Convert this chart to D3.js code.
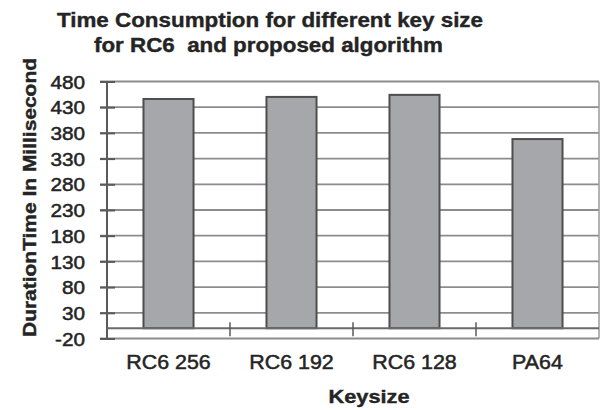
<!DOCTYPE html>
<html>
<head>
<meta charset="utf-8">
<script src="https://cdn.jsdelivr.net/npm/d3@7"></script>
<style>
  html, body { margin: 0; padding: 0; background: #fff; }
  svg { display: block; font-family: "Liberation Sans", Arial, sans-serif; }
</style>
</head>
<body>
<svg id="chart" width="601" height="410"></svg>
<script>
// Key sizes and measured durations (ms)
const categories = ["RC6 256", "RC6 192", "RC6 128", "PA64"];
const durations = [446, 450, 454, 368];
const yTicks = [-20, 30, 80, 130, 180, 230, 280, 330, 380, 430, 480];

const titleLines = ["Time Consumption for different key size", "for RC6  and proposed algorithm"];
const yTitle = "DurationTime In Millisecond";
const xTitle = "Keysize";

const svg = d3.select("#chart");
const plot = { left: 107, right: 599, top: 81.5, bottom: 338.5 };

const y = d3.scaleLinear().domain([-20, 480]).range([plot.bottom, plot.top]);
const x = d3.scaleBand().domain(categories)
  .range([plot.left, plot.right])
  .paddingInner(0.593).paddingOuter(0.2965);

const ink = "#242424";

// widen a text element horizontally by a factor
function stretch(sel, k) {
  sel.each(function () {
    const w = this.getComputedTextLength();
    d3.select(this).attr("textLength", w * k).attr("lengthAdjust", "spacingAndGlyphs");
  });
}

// horizontal gridlines, starting from the left tick stubs
svg.append("g").selectAll("line").data(yTicks).join("line")
  .attr("x1", plot.left - 7).attr("x2", plot.right)
  .attr("y1", d => y(d)).attr("y2", d => y(d))
  .attr("stroke", "#8c8c8c").attr("stroke-width", 1.8);

// right edge of plot area
svg.append("line")
  .attr("x1", plot.right).attr("x2", plot.right)
  .attr("y1", plot.top).attr("y2", plot.bottom)
  .attr("stroke", "#9a9a9a").attr("stroke-width", 1.5);

// bars
svg.append("g").selectAll("rect").data(categories).join("rect")
  .attr("x", d => x(d))
  .attr("width", x.bandwidth())
  .attr("y", (d, i) => y(durations[i]))
  .attr("height", (d, i) => y(0) - y(durations[i]))
  .attr("fill", "#a5a7aa")
  .attr("stroke", "#4e4e4e").attr("stroke-width", 2);

// value axis
const yAxis = d3.axisLeft(y).tickValues(yTicks).tickSize(0).tickPadding(0).tickFormat(d3.format("d"));
const gy = svg.append("g").attr("transform", `translate(${plot.left},0)`).call(yAxis);
gy.select(".domain").remove();
gy.selectAll(".tick text").remove();
gy.append("line")
  .attr("x1", 0).attr("x2", 0).attr("y1", plot.top).attr("y2", plot.bottom)
  .attr("stroke", "#5a5a5a").attr("stroke-width", 2);
gy.selectAll(".tick").append("line")
  .attr("x1", -7).attr("x2", 8)
  .attr("stroke", "#5a5a5a").attr("stroke-width", 2);
gy.selectAll(".tick").append("text")
  .attr("x", -22).attr("dy", "0.36em")
  .attr("text-anchor", "end")
  .attr("fill", ink)
  .style("font-size", "18.5px")
  .attr("stroke", ink).attr("stroke-width", 0.5)
  .text(d => d)
  .call(stretch, 1.12);

// category axis at zero with crossing ticks between groups
const gx = svg.append("g").attr("transform", `translate(0,${y(0)})`);
gx.append("line")
  .attr("x1", plot.left).attr("x2", plot.right)
  .attr("stroke", "#6a6a6a").attr("stroke-width", 2);
const bounds = categories.slice(1).map(c => x(c) - x.step() * x.paddingInner() / 2);
gx.selectAll(".sep").data(bounds).join("line").attr("class", "sep")
  .attr("x1", d => d).attr("x2", d => d)
  .attr("y1", -6).attr("y2", 8)
  .attr("stroke", "#5a5a5a").attr("stroke-width", 1.5);

// category labels
svg.append("g").selectAll("text").data(categories).join("text")
  .attr("x", d => x(d) + x.bandwidth() / 2)
  .attr("y", 369)
  .attr("text-anchor", "middle")
  .attr("fill", ink)
  .attr("stroke", ink).attr("stroke-width", 0.5)
  .style("font-size", "20px")
  .text(d => d)
  .call(stretch, 1.07);

// titles
const title = svg.append("g");
[[27, 426, 270], [52, 349, 268.5]].forEach(([by, w, cx], i) => {
  title.append("text")
    .attr("x", cx).attr("y", by)
    .attr("text-anchor", "middle")
    .attr("font-weight", "bold")
    .attr("fill", ink)
    .attr("stroke", ink).attr("stroke-width", 0.4)
    .style("font-size", "21px")
    .style("white-space", "pre")
    .attr("textLength", w).attr("lengthAdjust", "spacingAndGlyphs")
    .text(titleLines[i]);
});

svg.append("text")
  .attr("transform", `translate(36,${(58 + 337) / 2}) rotate(-90)`)
  .attr("text-anchor", "middle")
  .attr("font-weight", "bold")
  .attr("fill", ink)
  .attr("stroke", ink).attr("stroke-width", 0.4)
  .style("font-size", "18px")
  .attr("textLength", 279).attr("lengthAdjust", "spacingAndGlyphs")
  .text(yTitle);

svg.append("text")
  .attr("x", 369).attr("y", 403)
  .attr("text-anchor", "middle")
  .attr("font-weight", "bold")
  .attr("fill", ink)
  .attr("stroke", ink).attr("stroke-width", 0.4)
  .style("font-size", "19px")
  .attr("textLength", 81).attr("lengthAdjust", "spacingAndGlyphs")
  .text(xTitle);
</script>
</body>
</html>
